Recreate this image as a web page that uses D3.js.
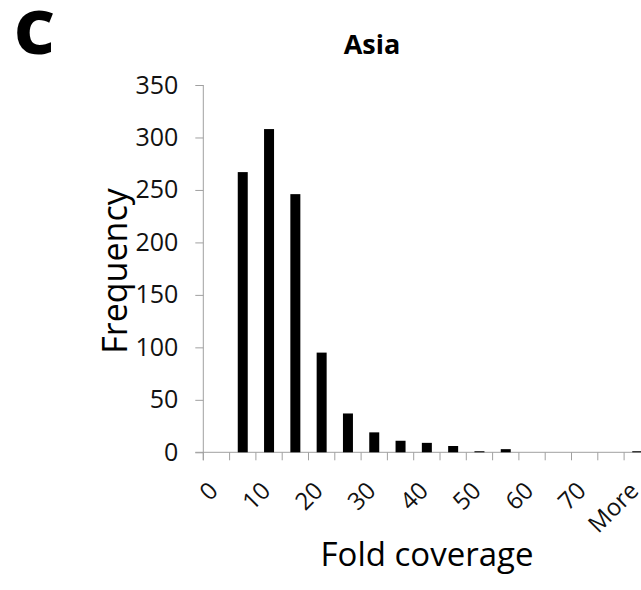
<!DOCTYPE html>
<html><head><meta charset="utf-8">
<script src="https://cdn.jsdelivr.net/npm/d3@7"></script>
<style>body{margin:0;background:#fff;} svg{display:block;}</style>
</head><body>
<script>
const categories = ["0","5","10","15","20","25","30","35","40","45","50","55","60","65","70","75","More"];
const frequency = [0,267,308,246,95,37,19,11,9,6,1,3,0,0,0,0,1];
const xTickLabels = ["0","10","20","30","40","50","60","70","More"];
const yTicks = [0,50,100,150,200,250,300,350];

const W = 641, H = 590;
const font = "'Open Sans', 'Liberation Sans', sans-serif";
const svg = d3.select("body").append("svg").attr("width", W).attr("height", H);

const x0 = 203.3, y0 = 452.3, yTop = 85, band = 26.3;
const x = d3.scaleBand().domain(categories).range([x0, x0 + band * categories.length]).paddingInner(0.62).paddingOuter(0.31);
const y = d3.scaleLinear().domain([0, 350]).range([y0, yTop]);
const grid = "#a0a0a0";

// y axis
const yAxis = svg.append("g").attr("transform", `translate(${x0},0)`)
  .call(d3.axisLeft(y).tickValues(yTicks).tickSize(8).tickPadding(17));
yAxis.select(".domain").attr("stroke", grid).attr("d", `M0,${yTop}V${y0 + 8}`);
yAxis.selectAll(".tick line").attr("stroke", grid);
yAxis.selectAll("text").attr("font-family", font).attr("font-size", 25).attr("fill", "#111");

// x axis
const xg = svg.append("g").attr("transform", `translate(0,${y0})`);
xg.append("line").attr("x1", x0 - 8).attr("x2", W + 20).attr("y1", 0).attr("y2", 0).attr("stroke", grid);
const bounds = d3.range(categories.length + 1).map(i => x0 + i * band);
xg.selectAll("line.tk").data(bounds).join("line").attr("class", "tk")
  .attr("x1", d => d).attr("x2", d => d).attr("y1", 0).attr("y2", 8).attr("stroke", grid);
xg.selectAll("text").data(xTickLabels).join("text")
  .attr("transform", d => `translate(${x(d) + x.bandwidth() / 2 - 9},${28}) rotate(-45)`)
  .attr("text-anchor", "end").attr("dy", "0.7em")
  .attr("font-family", font).attr("font-size", 24).attr("fill", "#111")
  .text(d => d);

// bars
svg.append("g").selectAll("rect").data(categories.map((c, i) => ({c, v: frequency[i]})).filter(d => d.v > 0)).join("rect")
  .attr("x", d => x(d.c)).attr("width", x.bandwidth())
  .attr("y", d => y(d.v)).attr("height", d => y0 - y(d.v))
  .attr("fill", "#000");

// labels
svg.append("text").attr("transform", "translate(14,54) scale(1.05,1)").attr("font-family", font).attr("font-weight", 800)
  .attr("font-size", 60).attr("fill", "#000").text("C");
svg.append("text").attr("x", 372).attr("y", 54).attr("text-anchor", "middle").attr("font-family", font)
  .attr("font-weight", 700).attr("font-size", 27).attr("fill", "#000").text("Asia");
svg.append("text").attr("transform", "translate(127,271) rotate(-90)").attr("text-anchor", "middle")
  .attr("font-family", font).attr("font-size", 34).attr("fill", "#000").text("Frequency");
svg.append("text").attr("x", 427).attr("y", 566).attr("text-anchor", "middle")
  .attr("font-family", font).attr("font-size", 33).attr("fill", "#000").text("Fold coverage");
</script>
</body></html>
